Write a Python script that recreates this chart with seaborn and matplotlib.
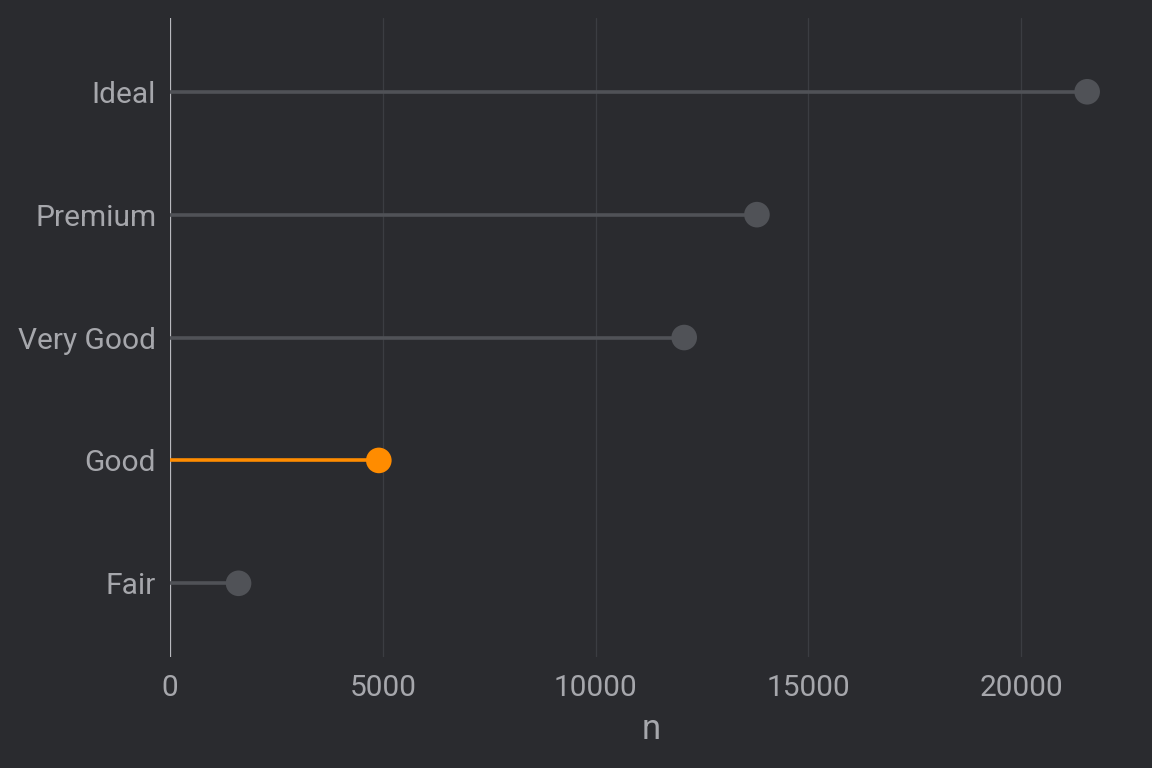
import pandas as pd
import matplotlib.pyplot as plt
import seaborn as sns

# diamond cut counts
cuts = ["Ideal", "Premium", "Very Good", "Good", "Fair"]
counts = [21551, 13791, 12082, 4906, 1610]
highlight = "Good"

df = pd.DataFrame({"cut": cuts, "n": counts})
df["hl"] = df["cut"] == highlight

bg = "#2a2b2f"
txt = "#a6a7ac"
grey = "#505257"
orange = "#ff8c00"

sns.set_theme(style="dark")
plt.rcParams["font.family"] = ["Roboto", "DejaVu Sans"]

fig = plt.figure(figsize=(11.52, 7.68), dpi=100, facecolor=bg)
ax = fig.add_axes([0.1476, 0.1445, 0.8359, 0.832], facecolor=bg)

# lollipop stems
for _, row in df.iterrows():
    ax.hlines(row["cut"], 0, row["n"], color=orange if row["hl"] else grey,
              linewidth=2.6, zorder=2)

sns.scatterplot(data=df, x="n", y="cut", hue="hl", palette={True: orange, False: grey},
                s=340, linewidth=0, legend=False, ax=ax, zorder=3)

ax.set_xlim(0, 22628)
ax.set_ylim(4.6, -0.6)
ax.set_xticks([0, 5000, 10000, 15000, 20000])
ax.grid(axis="x", color="#3b3d42", linewidth=0.9)
ax.grid(axis="y", visible=False)
ax.axvline(0, color="#b8b9be", linewidth=1.6, zorder=1)

for s in ax.spines.values():
    s.set_visible(False)
ax.tick_params(axis="both", length=0, colors=txt, labelsize=21.5)
ax.tick_params(axis="x", pad=12)
ax.tick_params(axis="y", pad=10)
ax.set_xlabel("n", color=txt, fontsize=25, labelpad=8)
ax.set_ylabel("")

fig.savefig("out.png", dpi=100, facecolor=bg)
